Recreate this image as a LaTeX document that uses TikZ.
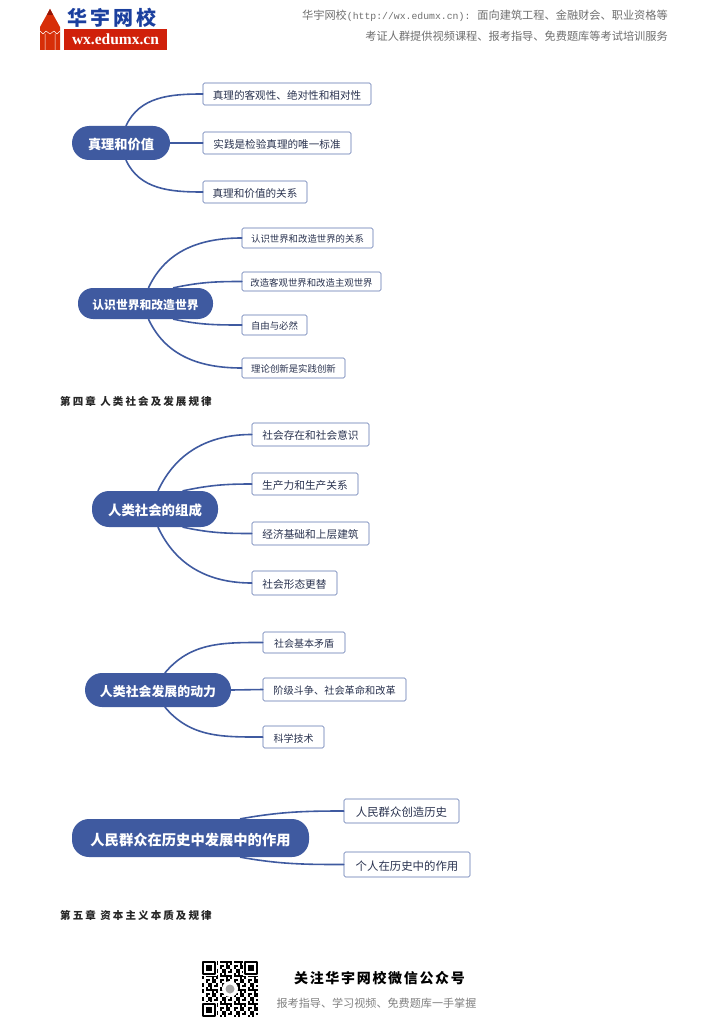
\documentclass[tikz,border=0pt]{standalone}
\usepackage{fontspec}
\setmainfont{Noto Sans CJK SC}
\newfontfamily\chapfont[LetterSpace=20]{Noto Sans CJK SC}
\newfontfamily\followfont[LetterSpace=12]{Noto Sans CJK SC}
\newfontfamily\logofont{Liberation Serif}
\newfontfamily\urlfont{Liberation Mono}
\definecolor{mapblue}{HTML}{3F5AA0}
\definecolor{leafink}{HTML}{2A3350}
\definecolor{headgray}{HTML}{6E6E6E}
\definecolor{logored}{HTML}{D0200A}
\definecolor{logoblue}{HTML}{1B3F9E}
\tikzset{
	root/.style={fill=mapblue,rounded corners=17pt,text=white,inner sep=0pt,text height={1.05*#1},text depth={.05*#1},font=\bfseries\fontsize{#1}{#1}\selectfont},
	leaf/.style={draw=mapblue!85,fill=white,line width=.6pt,rounded corners=1.5pt,text=leafink,inner sep=0pt,minimum height=22pt,text height={1.05*#1},text depth={.05*#1},font=\fontsize{#1}{#1}\selectfont},
	branch/.style={draw=mapblue,line width=1.6pt},
	chaptitle/.style={anchor=west,inner sep=0pt,text=black!85,font=\chapfont\bfseries\fontsize{10.5}{10.5}\selectfont},
	headtext/.style={anchor=east,inner sep=0pt,text=headgray,font=\fontsize{#1}{#1}\selectfont}
}
\begin{document}
\begin{tikzpicture}[x=1pt,y=-1pt,line join=round,line cap=round]
	\useasboundingbox (0,0) rectangle (724,1024);
	% header
	\fill[logored!85!orange] (50,9)--(60,27)--(60,50)--(40,50)--(40,27)--cycle;
	\fill[logored!70!black] (50,9)--(53,15)--(47,15)--cycle;
	\draw[white,line width=.5pt] (40,31)--(43,34)--(46,31)--(50,34)--(54,31)--(57,34)--(60,31) (45,34)--(45,50) (55,34)--(55,50);
	\fill[logored] (64,29) rectangle (167,50);
	\node[text=logoblue,inner sep=0pt,font=\bfseries\fontsize{20}{20}\selectfont] (logotop) at (112,17.5) {华\kern3pt 宇\kern3pt 网\kern3pt 校};
	\node[text=white,inner sep=0pt,font=\logofont\bfseries\fontsize{15.5}{15.5}\selectfont] (logourl) at (115.5,39.5) {wx.edumx.cn};
	\node[headtext=11.2] (headone) at (668,16) {华宇网校{\urlfont\fontsize{9.8}{9.8}\selectfont(http://wx.edumx.cn):}\kern7pt 面向建筑工程、金融财会、职业资格等};
	\node[headtext=11.2] (headtwo) at (668,36) {考证人群提供视频课程、报考指导、免费题库等考试培训服务};
	% truth and value
	\node[root=13.2,minimum width=98,minimum height=34] (rootA) at (121,143) {真理和价值};
	\node[leaf=10.6,minimum width=168] (leafAa) at (287,94) {真理的客观性、绝对性和相对性};
	\node[leaf=10.6,minimum width=148] (leafAb) at (277,143) {实践是检验真理的唯一标准};
	\node[leaf=10.6,minimum width=104] (leafAc) at (255,192) {真理和价值的关系};
	\draw[branch] ([xshift=5]rootA.north) to[out=65,in=180] (leafAa.west);
	\draw[branch] (rootA.east)--(leafAb.west);
	\draw[branch] ([xshift=5]rootA.south) to[out=-65,in=180] (leafAc.west);
	% knowing and changing the world
	\node[root=11.8,rounded corners=15pt,minimum width=135,minimum height=31] (rootB) at (145.5,303.5) {认识世界和改造世界};
	\node[leaf=9.4,minimum width=131,minimum height=20] (leafBa) at (307.5,238) {认识世界和改造世界的关系};
	\node[leaf=9.4,minimum width=139,minimum height=19] (leafBb) at (311.5,281.5) {改造客观世界和改造主观世界};
	\node[leaf=9.4,minimum width=65,minimum height=20] (leafBc) at (274.5,325) {自由与必然};
	\node[leaf=9.4,minimum width=103,minimum height=20] (leafBd) at (293.5,368) {理论创新是实践创新};
	\draw[branch] ([xshift=3]rootB.north) to[out=65,in=180] (leafBa.west);
	\draw[branch] ([xshift=28]rootB.north) to[out=12,in=180] (leafBb.west);
	\draw[branch] ([xshift=28]rootB.south) to[out=-12,in=180] (leafBc.west);
	\draw[branch] ([xshift=3]rootB.south) to[out=-65,in=180] (leafBd.west);
	\node[chaptitle] (chapfour) at (60,401) {第四章 人类社会及发展规律};
	% human society
	\node[root=13.4,minimum width=126,minimum height=36] (rootC) at (155,509) {人类社会的组成};
	\node[leaf=10.7,minimum width=117,minimum height=23] (leafCa) at (310.5,434.5) {社会存在和社会意识};
	\node[leaf=10.7,minimum width=106] (leafCb) at (305,484) {生产力和生产关系};
	\node[leaf=10.7,minimum width=117,minimum height=23] (leafCc) at (310.5,533.5) {经济基础和上层建筑};
	\node[leaf=10.7,minimum width=85,minimum height=24] (leafCd) at (294.5,583) {社会形态更替};
	\draw[branch] ([xshift=3]rootC.north) to[out=65,in=180] (leafCa.west);
	\draw[branch] ([xshift=28]rootC.north) to[out=12,in=180] (leafCb.west);
	\draw[branch] ([xshift=28]rootC.south) to[out=-12,in=180] (leafCc.west);
	\draw[branch] ([xshift=3]rootC.south) to[out=-65,in=180] (leafCd.west);
	% driving forces
	\node[root=12.9,minimum width=146,minimum height=34] (rootD) at (158,690) {人类社会发展的动力};
	\node[leaf=10,minimum width=82,minimum height=21] (leafDa) at (304,642.5) {社会基本矛盾};
	\node[leaf=10.2,minimum width=143,minimum height=23] (leafDb) at (334.5,689.5) {阶级斗争、社会革命和改革};
	\node[leaf=10,minimum width=61] (leafDc) at (293.5,737) {科学技术};
	\draw[branch] ([xshift=7]rootD.north) to[out=50,in=180] (leafDa.west);
	\draw[branch] (rootD.east)--(leafDb.west);
	\draw[branch] ([xshift=7]rootD.south) to[out=-50,in=180] (leafDc.west);
	% the people
	\node[root=14.3,minimum width=237,minimum height=38] (rootE) at (190.5,838) {人民群众在历史中发展中的作用};
	\node[leaf=11.4,minimum width=115,minimum height=24] (leafEa) at (401.5,811) {人民群众创造历史};
	\node[leaf=11.4,minimum width=126,minimum height=25] (leafEb) at (407,864.5) {个人在历史中的作用};
	\draw[branch] ([xshift=50]rootE.north) to[out=10,in=180] (leafEa.west);
	\draw[branch] ([xshift=50]rootE.south) to[out=-10,in=180] (leafEb.west);
	\node[chaptitle] (chapfive) at (60,915) {第五章 资本主义本质及规律};
	% footer
	\foreach \i in {0,...,27}
		\foreach \j in {0,...,27}{
			\pgfmathparse{int(mod(\i*\i*3+\j*\j*7+\i*\j*5+\i+2*\j,7))}
			\ifnum\pgfmathresult<4
				\fill (202+2*\i,961+2*\j) rectangle ++(2,2);
			\fi
		}
	\foreach \qx/\qy in {202/961,244/961,202/1003}{
		\fill[white] (\qx-1,\qy-1) rectangle ++(16,16);
		\draw[line width=2pt,line cap=butt] (\qx+1,\qy+1) rectangle ++(12,12);
		\fill (\qx+4,\qy+4) rectangle ++(6,6);
	}
	\fill[white] (230,989) circle (8);
	\fill[black!35] (230,989) circle (4.5);
	\node[inner sep=0pt,text=black,font=\followfont\bfseries\fontsize{14}{14}\selectfont] (followus) at (379.5,978) {关注华宇网校微信公众号};
	\node[inner sep=0pt,text=black!50,font=\fontsize{11.1}{11.1}\selectfont] (footline) at (376.5,1003) {报考指导、学习视频、免费题库一手掌握};
\end{tikzpicture}
\end{document}
